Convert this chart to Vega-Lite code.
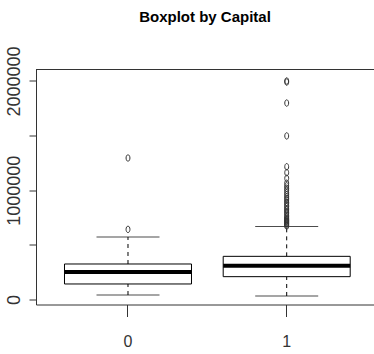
{
  "$schema": "https://vega.github.io/schema/vega-lite/v6.json",
  "autosize": "none",
  "padding": {"left": 36, "top": 69.5, "right": 0, "bottom": 49.5},
  "width": 338,
  "height": 235,
  "background": "white",
  "config": {"view": {"stroke": null}},
  "title": {
    "text": "Boxplot by Capital",
    "font": "Liberation Sans",
    "fontWeight": "bold",
    "fontSize": 15,
    "color": "#000",
    "anchor": "middle",
    "frame": "group",
    "baseline": "alphabetic",
    "offset": 9
  },
  "datasets": {
    "boxes": [
      {"group": "0", "lower": 41000, "q1": 142000, "median": 252000, "q3": 325000, "upper": 572000},
      {"group": "1", "lower": 32000, "q1": 209000, "median": 309000, "q3": 395000, "upper": 667000}
    ],
    "outliers": [
      {"group": "0", "value": 642000},
      {"group": "0", "value": 1295000},
      {"group": "1", "value": 2000000},
      {"group": "1", "value": 1990000},
      {"group": "1", "value": 1798000},
      {"group": "1", "value": 1497000},
      {"group": "1", "value": 1215000},
      {"group": "1", "value": 1161000},
      {"group": "1", "value": 1109000},
      {"group": "1", "value": 1064000},
      {"group": "1", "value": 1040000},
      {"group": "1", "value": 1018000},
      {"group": "1", "value": 1000000},
      {"group": "1", "value": 978000},
      {"group": "1", "value": 960000},
      {"group": "1", "value": 941000},
      {"group": "1", "value": 925000},
      {"group": "1", "value": 911000},
      {"group": "1", "value": 890000},
      {"group": "1", "value": 880000},
      {"group": "1", "value": 860000},
      {"group": "1", "value": 849000},
      {"group": "1", "value": 830000},
      {"group": "1", "value": 819000},
      {"group": "1", "value": 800000},
      {"group": "1", "value": 789000},
      {"group": "1", "value": 770000},
      {"group": "1", "value": 758000},
      {"group": "1", "value": 745000},
      {"group": "1", "value": 735000},
      {"group": "1", "value": 728000},
      {"group": "1", "value": 720000},
      {"group": "1", "value": 715000},
      {"group": "1", "value": 705000},
      {"group": "1", "value": 697000},
      {"group": "1", "value": 690000},
      {"group": "1", "value": 680000},
      {"group": "1", "value": 672000}
    ]
  },
  "encoding": {
    "x": {
      "field": "group",
      "type": "nominal",
      "scale": {"domain": ["0", "1"], "paddingInner": 0, "paddingOuter": 0.0649, "align": 0.614},
      "axis": {
        "title": null,
        "labelAngle": 0,
        "tickSize": 12,
        "labelFont": "Liberation Sans",
        "labelFontSize": 16,
        "labelPadding": 17,
        "labelColor": "#333",
        "domainColor": "#333",
        "tickColor": "#333"
      }
    }
  },
  "layer": [
    {
      "data": {"values": [{"top": 2105000}]},
      "mark": {"type": "rule", "color": "#333", "strokeWidth": 1},
      "encoding": {"x": null, "y": {"field": "top", "type": "quantitative"}}
    },
    {
      "data": {"name": "boxes"},
      "mark": {"type": "rule", "color": "#000", "strokeDash": [4, 4], "strokeWidth": 1},
      "encoding": {
        "y": {"field": "lower", "type": "quantitative"},
        "y2": {"field": "q1"}
      }
    },
    {
      "data": {"name": "boxes"},
      "mark": {"type": "rule", "color": "#000", "strokeDash": [4, 4], "strokeWidth": 1},
      "encoding": {
        "y": {"field": "q3", "type": "quantitative"},
        "y2": {"field": "upper"}
      }
    },
    {
      "data": {"name": "boxes"},
      "mark": {"type": "tick", "color": "#000", "size": 63, "thickness": 1},
      "encoding": {"y": {"field": "lower", "type": "quantitative"}}
    },
    {
      "data": {"name": "boxes"},
      "mark": {"type": "tick", "color": "#000", "size": 63, "thickness": 1},
      "encoding": {"y": {"field": "upper", "type": "quantitative"}}
    },
    {
      "data": {"name": "boxes"},
      "mark": {"type": "bar", "size": 127, "fill": "white", "stroke": "#000", "strokeWidth": 1},
      "encoding": {
        "y": {"field": "q1", "type": "quantitative"},
        "y2": {"field": "q3"}
      }
    },
    {
      "data": {"name": "boxes"},
      "mark": {"type": "tick", "color": "#000", "size": 127, "thickness": 4, "opacity": 1},
      "encoding": {"y": {"field": "median", "type": "quantitative"}}
    },
    {
      "data": {"name": "outliers"},
      "mark": {
        "type": "point",
        "filled": false,
        "shape": "M0,-1A0.6,1,0,1,1,0,1A0.6,1,0,1,1,0,-1Z",
        "size": 42,
        "stroke": "#333",
        "strokeWidth": 1,
        "opacity": 1
      },
      "encoding": {
        "y": {
          "field": "value",
          "type": "quantitative",
          "scale": {"domain": [-45800, 2105000], "nice": false, "zero": false},
          "axis": {
            "title": null,
            "grid": false,
            "values": [0, 500000, 1000000, 1500000, 2000000],
            "format": "d",
            "labelExpr": "datum.value % 1000000 === 0 ? datum.label : ''",
            "tickSize": 7,
            "labelAngle": 270,
            "labelAlign": "center",
            "labelBaseline": "bottom",
            "labelFont": "Liberation Sans",
            "labelFontSize": 18,
            "labelPadding": 6,
            "labelColor": "#333",
            "labelOverlap": false,
            "labelFlush": false,
            "domainColor": "#333",
            "tickColor": "#333"
          }
        }
      }
    }
  ]
}
